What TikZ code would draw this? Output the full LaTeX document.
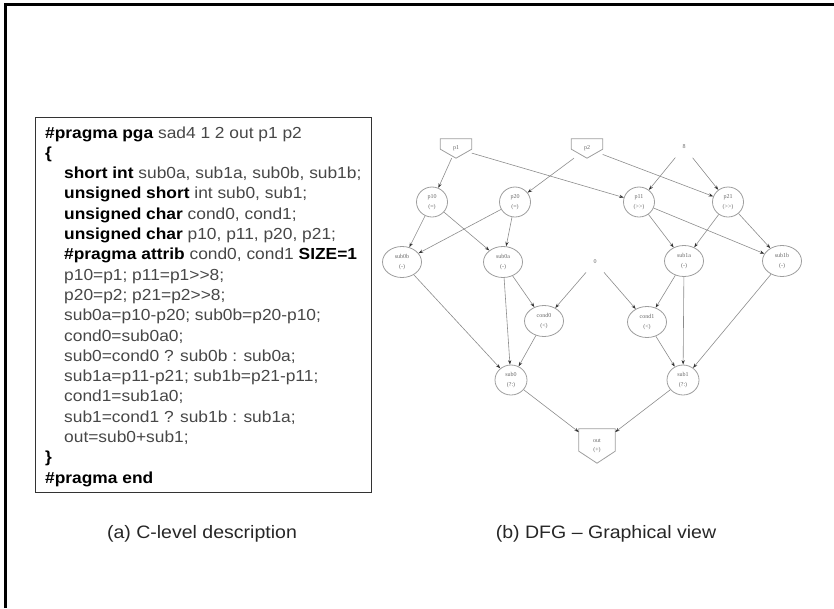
\documentclass[tikz,border=0pt]{standalone}
\usepackage{fontspec}
\setmainfont{Liberation Sans}[FakeStretch=1.085]
\newfontfamily\dfgfont{Liberation Serif}
\usetikzlibrary{arrows.meta,shapes.geometric}
\newcommand\cKw[1]{\textbf{\color{black}#1}}
\newcommand\shr{>\kern0pt>}
\begin{document}
\begin{tikzpicture}[x=1pt,y=-1pt,
  codeline/.style={anchor=base west, inner sep=0pt, font=\fontsize{16}{18}\selectfont, text=black!72},
  caption/.style={anchor=base, inner sep=0pt, font=\fontsize{18}{20}\selectfont, text=black!85},
  opnode/.style={ellipse, draw=black!38, line width=0.8pt, inner sep=0pt, minimum width=31pt, minimum height=30pt,
     align=center, text=black!60, font=\dfgfont\fontsize{6}{9.5}\selectfont},
  widenode/.style={opnode, minimum width=39pt, minimum height=31pt},
  io/.style={rectangle, draw=none, inner sep=0pt, align=center, text=black!60, font=\dfgfont\fontsize{6}{9.5}\selectfont},
  pent/.style={draw=black!38, line width=0.8pt},
  constnode/.style={circle, draw=none, inner sep=0pt, minimum size=27pt, text=black!60, font=\dfgfont\fontsize{6}{8}\selectfont},
  flow/.style={draw=black!45, line width=0.6pt, -{Stealth[length=4.5pt,width=3.2pt,color=black!80]}},
  frame/.style={draw=black, line width=2.4pt}
]
\useasboundingbox (0,0) rectangle (834,608);
% outer frame (top and left)
\draw[frame] (5.5,608) -- (5.5,4.5) -- (834,4.5);

% code box
\node[draw=black!80, line width=1pt, inner sep=0pt, minimum width=335.5pt, minimum height=375pt] (codebox) at (203.25,304.5) {};

\node[codeline] (c1) at (45,138) {\cKw{\#pragma pga} sad4 1 2 out p1 p2};
\node[codeline] (c2) at (45,158.3) {\cKw{\{}};
\node[codeline] (c3) at (64,178.6) {\cKw{short int} sub0a, sub1a, sub0b, sub1b;};
\node[codeline] (c4) at (64,198.9) {\cKw{unsigned short} int sub0, sub1;};
\node[codeline] (c5) at (64,219.2) {\cKw{unsigned char} cond0, cond1;};
\node[codeline] (c6) at (64,239.5) {\cKw{unsigned char} p10, p11, p20, p21;};
\node[codeline] (c7) at (64,259.8) {\cKw{\#pragma attrib} cond0, cond1 \cKw{SIZE=1}};
\node[codeline] (c8) at (64,280.1) {p10=p1; p11=p1\shr8;};
\node[codeline] (c9) at (64,300.4) {p20=p2; p21=p2\shr8;};
\node[codeline] (c10) at (64,320.7) {sub0a=p10-p20; sub0b=p20-p10;};
\node[codeline] (c11) at (64,341.0) {cond0=sub0a0;};
\node[codeline] (c12) at (64,361.3) {sub0=cond0 ? sub0b : sub0a;};
\node[codeline] (c13) at (64,381.6) {sub1a=p11-p21; sub1b=p21-p11;};
\node[codeline] (c14) at (64,401.9) {cond1=sub1a0;};
\node[codeline] (c15) at (64,422.2) {sub1=cond1 ? sub1b : sub1a;};
\node[codeline] (c16) at (64,442.5) {out=sub0+sub1;};
\node[codeline] (c17) at (45,462.8) {\cKw{\}}};
\node[codeline] (c18) at (45,483.1) {\cKw{\#pragma end}};

% captions
\node[caption] (capa) at (202,538) {(a) C-level description};
\node[caption] (capb) at (606,538) {(b) DFG -- Graphical view};

% DFG nodes
\node[io, minimum width=31pt, minimum height=19pt] (p1) at (456,148.5) {p1};
\draw[pent] (p1.north west) -- (p1.north east) -- ([yshift=9pt]p1.south east) -- (p1.south) -- ([yshift=9pt]p1.south west) -- cycle;
\node[io, minimum width=31pt, minimum height=19pt] (p2) at (587,148.5) {p2};
\draw[pent] (p2.north west) -- (p2.north east) -- ([yshift=9pt]p2.south east) -- (p2.south) -- ([yshift=9pt]p2.south west) -- cycle;
\node[constnode] (k8) at (684,147) {8};

\node[opnode] (p10) at (432,202) {p10\\(=)};
\node[opnode] (p20) at (515,202) {p20\\(=)};
\node[opnode] (p11) at (639,202) {p11\\(\shr)};
\node[opnode] (p21) at (728,202) {p21\\(\shr)};

\node[widenode] (sub0b) at (402,262) {sub0b\\(-)};
\node[widenode] (sub0a) at (503,262) {sub0a\\(-)};
\node[constnode] (k0) at (595,262) {0};
\node[widenode] (sub1a) at (684,261) {sub1a\\(-)};
\node[widenode] (sub1b) at (782,261) {sub1b\\(-)};

\node[widenode] (cond0) at (544,321) {cond0\\(<)};
\node[widenode] (cond1) at (647,322) {cond1\\(<)};

\node[opnode, minimum width=32pt] (sub0) at (511,380) {sub0\\(?:)};
\node[opnode, minimum width=32pt] (sub1) at (683,380) {sub1\\(?:)};

\node[io, minimum width=36pt, minimum height=34pt] (out) at (597,446) {out\\(+)};
\draw[pent] (out.north west) -- (out.north east) -- ([yshift=12pt]out.south east) -- (out.south) -- ([yshift=12pt]out.south west) -- cycle;

% edges
\draw[flow] (p1) -- (p10);
\draw[flow] (p1) -- (p11);
\draw[flow] (p2) -- (p20);
\draw[flow] (p2) -- (p21);
\draw[flow] (k8) -- (p11);
\draw[flow] (k8) -- (p21);
\draw[flow] (p10) -- (sub0b);
\draw[flow] (p10) -- (sub0a);
\draw[flow] (p20) -- (sub0b);
\draw[flow] (p20) -- (sub0a);
\draw[flow] (p11) -- (sub1a);
\draw[flow] (p11) -- (sub1b);
\draw[flow] (p21) -- (sub1a);
\draw[flow] (p21) -- (sub1b);
\draw[flow] (sub0a) -- (cond0);
\draw[flow] (k0) -- (cond0);
\draw[flow] (k0) -- (cond1);
\draw[flow] (sub1a) -- (cond1);
\draw[flow] (sub0b) -- (sub0);
\draw[flow] (sub0a) -- (sub0);
\draw[flow] (cond0) -- (sub0);
\draw[flow] (sub1a) -- (sub1);
\draw[flow] (sub1b) -- (sub1);
\draw[flow] (cond1) -- (sub1);
\draw[flow] (sub0) -- (out);
\draw[flow] (sub1) -- (out);
\end{tikzpicture}
\end{document}
